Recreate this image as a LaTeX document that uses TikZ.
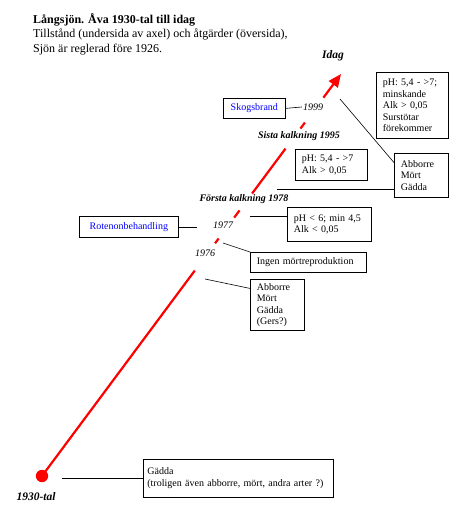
\documentclass[tikz,border=0pt]{standalone}
\usepackage{fontspec}
\setmainfont{Liberation Serif}
\usetikzlibrary{arrows.meta}

\begin{document}
\begin{tikzpicture}[x=1pt, y=-1pt,
    infobox/.style={draw, line width=0.7pt, anchor=north west, align=left,
      inner xsep=6.5pt, inner ysep=2pt, font=\fontsize{10}{11.5}\selectfont},
    actbox/.style={infobox, align=center, text=blue},
    link/.style={line width=0.6pt},
    yearlbl/.style={font=\fontsize{10}{12}\selectfont\itshape, inner sep=1pt},
    eventlbl/.style={font=\fontsize{10}{12}\selectfont\bfseries\itshape, inner sep=1pt},
    timeline/.style={red, line width=2.2pt, -{Triangle[length=13pt, width=11pt]}}]
    \useasboundingbox (0,0) rectangle (472,514);
    % Heading of the sheet
    \node[anchor=north west, align=left, inner sep=0pt,
      font=\fontsize{12}{14.5}\selectfont] (title) at (33,13)
      {\textbf{Långsjön. Åva 1930-tal till idag}\\
       Tillstånd (undersida av axel) och åtgärder (översida),\\
       Sjön är reglerad före 1926.};
    % Time axis from the 1930s up to today; gaps leave room for the labels.
    \coordinate (t0) at (42,476);
    \coordinate (now) at (341,74);
    \draw[timeline, dash pattern=on 256pt off 34pt on 6pt off 26pt on 9pt off 21pt
      on 56pt off 25pt on 7.5pt off 31pt on 300pt] (t0) -- (now);
    \fill[red] (t0) circle (6.2);
    \node[font=\fontsize{11.5}{13}\selectfont\bfseries\itshape] (idag) at (333,56) {Idag};
    \node[font=\fontsize{11.5}{13}\selectfont\bfseries\itshape] (t1930) at (36,497) {1930-tal};
    % Years and events along the axis
    \node[yearlbl] (y1999) at (313,107) {1999};
    \node[yearlbl] (y1977) at (223,225) {1977};
    \node[yearlbl] (y1976) at (205,253) {1976};
    \node[eventlbl] (k1995) at (299,136) {Sista kalkning 1995};
    \node[eventlbl] (k1978) at (244,199) {Första kalkning 1978};
    % Measures (above the axis)
    \node[actbox, text width=49pt, minimum height=20pt] (skog) at (223,98) {Skogsbrand};
    \node[actbox, text width=86pt, minimum height=21pt] (roten) at (79,216) {Rotenonbehandling};
    % State of the lake (below the axis)
    \node[infobox, text width=59pt, minimum height=66pt] (phnow) at (376,72)
      {pH: 5,4 - >7;\\minskande\\Alk > 0,05\\Surstötar\\förekommer};
    \node[infobox, text width=59pt, minimum height=31pt] (ph95) at (295,149)
      {pH: 5,4 - >7\\Alk > 0,05};
    \node[infobox, text width=41pt, minimum height=44pt] (fish1) at (394,153)
      {Abborre\\Mört\\Gädda};
    \node[infobox, text width=71pt, minimum height=34pt] (ph78) at (287,207)
      {pH < 6; min 4,5\\Alk < 0,05};
    \node[infobox, text width=103pt, minimum height=20pt] (ingen) at (250,252)
      {Ingen mörtreproduktion};
    \node[infobox, text width=41pt, minimum height=51pt] (fish2) at (250,279)
      {Abborre\\Mört\\Gädda\\(Gers?)};
    \node[infobox, inner xsep=4pt, text width=182pt, minimum height=38pt] (gadda) at (143,459)
      {Gädda\\(troligen även abborre, mört, andra arter ?)};
    % Leader lines
    \coordinate (cIdag) at (340,99);
    \coordinate (c1978) at (277,189);
    \coordinate (c1977) at (197,225);
    \coordinate (c1977r) at (250,216);
    \coordinate (c1976a) at (223,243);
    \coordinate (c1976b) at (205,279);
    \coordinate (c1930) at (62,478);
    \draw[link] (skog.east) -- (y1999.west);
    \draw[link] (cIdag) -- (fish1.155);
    \draw[link] (c1978) -- (c1978 -| fish1.west);
    \draw[link] (roten.east) -- (c1977 |- roten.east);
    \draw[link] (c1977r) -- (c1977r -| ph78.west);
    \draw[link] (c1976a) -- (ingen.north west);
    \draw[link] (c1976b) -- (fish2.149);
    \draw[link] (c1930) -- (c1930 -| gadda.west);
  \end{tikzpicture}
\end{document}
